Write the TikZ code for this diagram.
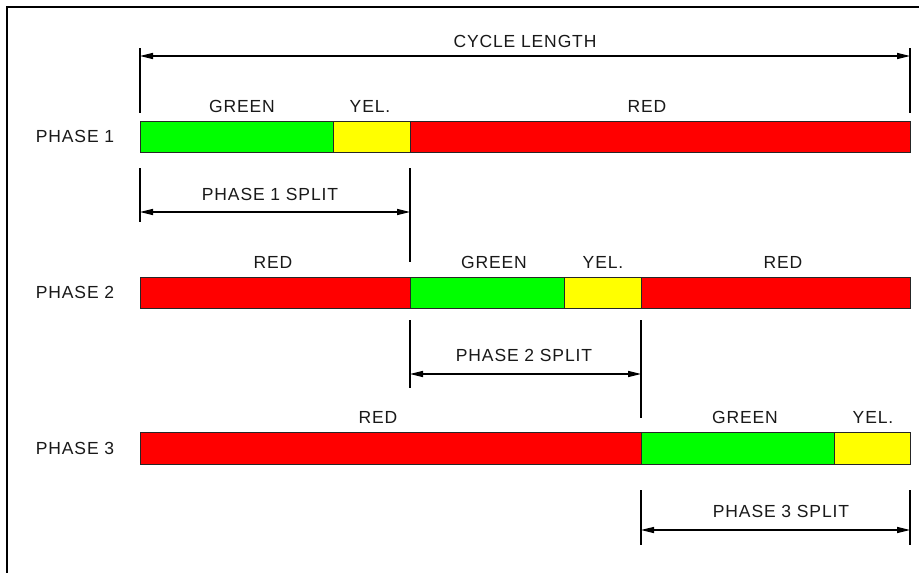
\documentclass[tikz,border=0pt]{standalone}
\usepackage{fontspec}
\setmainfont[LetterSpace=5]{Liberation Sans}
\usetikzlibrary{arrows.meta}
\definecolor{sgreen}{RGB}{0,255,0}
\definecolor{syellow}{RGB}{255,255,0}
\definecolor{sred}{RGB}{255,0,0}
\begin{document}
\begin{tikzpicture}[x=1pt,y=-1pt,
  seg/.style={draw=black!85, line width=0.9pt, inner sep=0pt, outer sep=0pt, anchor=north west, minimum height=31pt},
  lbl/.style={font=\fontsize{17.5}{19}\selectfont, inner sep=0pt, text=black!90},
  ext/.style={line width=1.3pt},
  dim/.style={line width=1.3pt, {Triangle[length=13pt,width=6pt]}-{Triangle[length=13pt,width=6pt]}}]
\useasboundingbox (0,0) rectangle (919,573);
\fill[white] (0,0) rectangle (919,573);
\draw[line width=2.5pt] (7,573) -- (7,7) -- (919,7);

% cycle length
\coordinate (c1t) at (140,48); \coordinate (c1b) at (140,113);
\coordinate (c2t) at (910,48); \coordinate (c2b) at (910,113);
\draw[ext] (c1t) -- (c1b); \draw[ext] (c2t) -- (c2b);
\coordinate (ca) at (140,56); \coordinate (cb) at (910,56);
\draw[dim] (ca) -- (cb);
\node[lbl] (cyc) at (525,41) {CYCLE LENGTH};

% phase 1
\node[lbl] (ph1) at (75,136) {PHASE 1};
\node[seg, fill=sgreen, minimum width=193pt] (p1g) at (140,121) {};
\node[seg, fill=syellow, minimum width=77pt] (p1y) at (333,121) {};
\node[seg, fill=sred, minimum width=500pt] (p1r) at (410,121) {};
\node[lbl] (l1g) at (242,106) {GREEN};
\node[lbl] (l1y) at (370,106) {YEL.};
\node[lbl] (l1r) at (647,106) {RED};

% phase 1 split
\coordinate (s1at) at (140,168); \coordinate (s1ab) at (140,222);
\coordinate (s1bt) at (410,168); \coordinate (s1bb) at (410,262);
\draw[ext] (s1at) -- (s1ab); \draw[ext] (s1bt) -- (s1bb);
\coordinate (s1a) at (140,212); \coordinate (s1b) at (410,212);
\draw[dim] (s1a) -- (s1b);
\node[lbl] (sp1) at (270,194) {PHASE 1 SPLIT};

% phase 2
\node[lbl] (ph2) at (75,292) {PHASE 2};
\node[seg, fill=sred, minimum width=270pt] (p2r1) at (140,277) {};
\node[seg, fill=sgreen, minimum width=154pt] (p2g) at (410,277) {};
\node[seg, fill=syellow, minimum width=77pt] (p2y) at (564,277) {};
\node[seg, fill=sred, minimum width=269pt] (p2r2) at (641,277) {};
\node[lbl] (l2r1) at (273,262) {RED};
\node[lbl] (l2g) at (494,262) {GREEN};
\node[lbl] (l2y) at (603,262) {YEL.};
\node[lbl] (l2r2) at (783,262) {RED};

% phase 2 split
\coordinate (s2at) at (410,320); \coordinate (s2ab) at (410,388);
\coordinate (s2bt) at (641,320); \coordinate (s2bb) at (641,418);
\draw[ext] (s2at) -- (s2ab); \draw[ext] (s2bt) -- (s2bb);
\coordinate (s2a) at (410,374); \coordinate (s2b) at (641,374);
\draw[dim] (s2a) -- (s2b);
\node[lbl] (sp2) at (524,355) {PHASE 2 SPLIT};

% phase 3
\node[lbl] (ph3) at (75,448) {PHASE 3};
\node[seg, fill=sred, minimum width=501pt, minimum height=32pt] (p3r) at (140,432) {};
\node[seg, fill=sgreen, minimum width=193pt, minimum height=32pt] (p3g) at (641,432) {};
\node[seg, fill=syellow, minimum width=76pt, minimum height=32pt] (p3y) at (834,432) {};
\node[lbl] (l3r) at (378,417) {RED};
\node[lbl] (l3g) at (745,417) {GREEN};
\node[lbl] (l3y) at (873,417) {YEL.};

% phase 3 split
\coordinate (s3at) at (641,490); \coordinate (s3ab) at (641,545);
\coordinate (s3bt) at (910,490); \coordinate (s3bb) at (910,545);
\draw[ext] (s3at) -- (s3ab); \draw[ext] (s3bt) -- (s3bb);
\coordinate (s3a) at (641,530); \coordinate (s3b) at (910,530);
\draw[dim] (s3a) -- (s3b);
\node[lbl] (sp3) at (781,511) {PHASE 3 SPLIT};
\end{tikzpicture}
\end{document}
